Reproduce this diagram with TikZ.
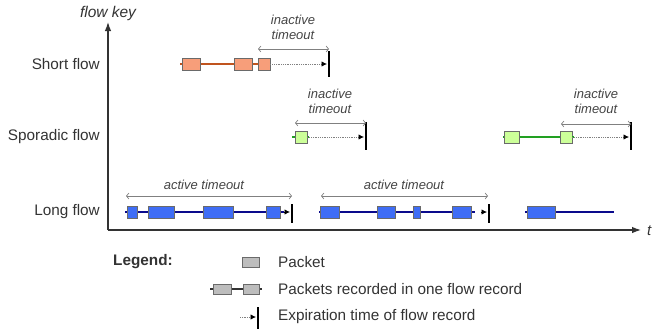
\documentclass[tikz,border=0pt]{standalone}
\usepackage{fontspec}
\setmainfont{Liberation Sans}
\usetikzlibrary{arrows.meta}
\definecolor{txt}{HTML}{333333}
\definecolor{itx}{HTML}{444444}
\definecolor{orfill}{HTML}{F79E7A}
\definecolor{orline}{HTML}{C0541E}
\definecolor{grfill}{HTML}{CCFF99}
\definecolor{grline}{HTML}{22A022}
\definecolor{blfill}{HTML}{3F6DF5}
\definecolor{blline}{HTML}{0A0A8C}
\definecolor{pkborder}{HTML}{6A6A6A}
\definecolor{lgfill}{HTML}{BDBDBD}
\begin{document}
\begin{tikzpicture}[x=1pt,y=-1pt,
  pkt/.style={draw=pkborder, line width=0.7pt, minimum height=12pt, inner sep=0pt, anchor=center},
  flowline/.style={line width=1.8pt},
  expline/.style={densely dotted, draw=gray, line width=0.8pt, -{Latex[length=5.5pt,width=5.5pt,color=black]}},
  tiponly/.style={line width=0.8pt, draw=black, -{Latex[length=5.5pt,width=5.5pt]}},
  expbar/.style={line width=1.1pt, black},
  tmo/.style={draw=gray, line width=0.7pt, {Straight Barb[length=2.5pt,width=6pt]}-{Straight Barb[length=2.5pt,width=6pt]}},
  tmolabel/.style={font=\fontsize{13}{15}\selectfont\itshape, text=itx, align=center, inner sep=0pt},
  rowlabel/.style={font=\fontsize{15.3}{17}\selectfont, text=txt, anchor=east, inner sep=0pt},
  leglabel/.style={font=\fontsize{15.3}{17}\selectfont, text=txt, anchor=west, inner sep=0pt},
  axis/.style={line width=1.2pt, draw=txt, -{Latex[length=9pt,width=6.5pt]}}]
\useasboundingbox (0,0) rectangle (653,330);

% axes
\coordinate (O) at (108,230);
\coordinate (ytop) at (108,22);
\coordinate (xend) at (641,230);
\draw[axis] (O) -- (ytop);
\draw[axis] (O) -- (xend);
\node[font=\fontsize{15.5}{17}\selectfont\itshape, text=txt, inner sep=0pt] (fk) at (108,13) {flow key};
\node[font=\fontsize{15}{17}\selectfont\itshape, text=txt, anchor=west, inner sep=0pt] (tl) at (647,231) {t};

% row labels
\node[rowlabel] (ls) at (100,64) {Short flow};
\node[rowlabel] (lsp) at (100,137) {Sporadic flow};
\node[rowlabel] (ll) at (100,212) {Long flow};

% ---------- Short flow ----------
\coordinate (s0) at (180,64);
\coordinate (sE) at (327,64);
\coordinate (sBt) at (329,51);
\coordinate (sBb) at (329,77);
\coordinate (sT1) at (258,49);
\coordinate (sT2) at (329,49);
\draw[flowline, orline] (s0) -- (264,64);
\node[pkt, fill=orfill, minimum width=18pt] (s1) at (191,64) {};
\node[pkt, fill=orfill, minimum width=18pt] (s2) at (243,64) {};
\node[pkt, fill=orfill, minimum width=12pt] (s3) at (264,64) {};
\draw[expline] (s3.east) -- (sE);
\draw[expbar] (sBt) -- (sBb);
\draw[tmo] (sT1) -- (sT2);
\node[tmolabel] (st) at (293,27) {inactive\\timeout};

% ---------- Sporadic flow 1 ----------
\coordinate (p0) at (292,137);
\coordinate (pE) at (364,137);
\coordinate (pBt) at (366,122);
\coordinate (pBb) at (366,150);
\coordinate (pT1) at (295,123);
\coordinate (pT2) at (366,123);
\draw[flowline, grline] (p0) -- (309,137);
\node[pkt, fill=grfill, minimum width=12pt] (p1) at (301,137) {};
\draw[expline] (p1.east) -- (pE);
\draw[expbar] (pBt) -- (pBb);
\draw[tmo] (pT1) -- (pT2);
\node[tmolabel] (pt) at (330,101) {inactive\\timeout};

% ---------- Sporadic flow 2 ----------
\coordinate (q0) at (503,137);
\coordinate (qE) at (629,137);
\coordinate (qBt) at (631,122);
\coordinate (qBb) at (631,150);
\coordinate (qT1) at (561,124);
\coordinate (qT2) at (631,124);
\node[pkt, fill=grfill, minimum width=15pt] (q1) at (512,137) {};
\node[pkt, fill=grfill, minimum width=12pt] (q2) at (566,137) {};
\draw[flowline, grline] (q0) -- (q1.west);
\draw[flowline, grline] (q1.east) -- (q2.west);
\draw[flowline, grline] (q2.east) -- ++(2,0);
\draw[expline] (q2.east) -- (qE);
\draw[expbar] (qBt) -- (qBb);
\draw[tmo] (qT1) -- (qT2);
\node[tmolabel] (qt) at (596,101) {inactive\\timeout};

% ---------- Long flow 1 ----------
\coordinate (a0) at (125,212);
\coordinate (aA) at (284,212);
\coordinate (aE) at (290,212);
\coordinate (aBt) at (292,204);
\coordinate (aBb) at (292,223);
\coordinate (aT1) at (126,196);
\coordinate (aT2) at (292,196);
\draw[flowline, blline] (a0) -- (aA);
\node[pkt, fill=blfill, minimum width=10pt] (a1) at (132,212) {};
\node[pkt, fill=blfill, minimum width=26pt] (a2) at (161,212) {};
\node[pkt, fill=blfill, minimum width=30pt] (a3) at (218,212) {};
\node[pkt, fill=blfill, minimum width=14pt] (a4) at (273,212) {};
\draw[tiponly] (aA) -- (aE);
\draw[expbar] (aBt) -- (aBb);
\draw[tmo] (aT1) -- (aT2);
\node[tmolabel] (at) at (204,185) {active timeout};

% ---------- Long flow 2 ----------
\coordinate (b0) at (319,212);
\coordinate (bL) at (475,212);
\coordinate (bA) at (481,212);
\coordinate (bE) at (487,212);
\coordinate (bBt) at (489,204);
\coordinate (bBb) at (489,223);
\coordinate (bT1) at (321,196);
\coordinate (bT2) at (488,196);
\draw[flowline, blline] (b0) -- (bL);
\node[pkt, fill=blfill, minimum width=19pt] (b1) at (330,212) {};
\node[pkt, fill=blfill, minimum width=18pt] (b2) at (386,212) {};
\node[pkt, fill=blfill, minimum width=7pt] (b3) at (417,212) {};
\node[pkt, fill=blfill, minimum width=19pt] (b4) at (462,212) {};
\draw[tiponly] (bA) -- (bE);
\draw[expbar] (bBt) -- (bBb);
\draw[tmo] (bT1) -- (bT2);
\node[tmolabel] (bt) at (404,185) {active timeout};

% ---------- Long flow 3 ----------
\coordinate (c0) at (525,212);
\coordinate (cE) at (614,212);
\draw[flowline, blline] (c0) -- (cE);
\node[pkt, fill=blfill, minimum width=28pt] (c1) at (541,212) {};

% ---------- Legend ----------
\node[font=\fontsize{15.3}{17}\selectfont\bfseries, text=txt, anchor=west, inner sep=0pt] (lg) at (113,262) {Legend:};
\node[pkt, fill=lgfill, minimum width=17pt, minimum height=10pt] (lp) at (251,262) {};
\node[leglabel] (lpt) at (278,262) {Packet};

\coordinate (m0) at (210,289);
\coordinate (m3) at (262,289);
\draw[flowline, draw=txt, line width=1.5pt] (m0) -- (m3);
\node[pkt, fill=lgfill, minimum width=18pt, minimum height=10pt] (m1) at (222,289) {};
\node[pkt, fill=lgfill, minimum width=16pt, minimum height=10pt] (m2) at (251,289) {};
\node[leglabel] (mt) at (278,289) {Packets recorded in one flow record};

\coordinate (e0) at (240,317);
\coordinate (e1) at (256,317);
\coordinate (eBt) at (258,307);
\coordinate (eBb) at (258,329);
\draw[expline] (e0) -- (e1);
\draw[expbar] (eBt) -- (eBb);
\node[leglabel] (et) at (278,317) {Expiration time of flow record};
\end{tikzpicture}
\end{document}
